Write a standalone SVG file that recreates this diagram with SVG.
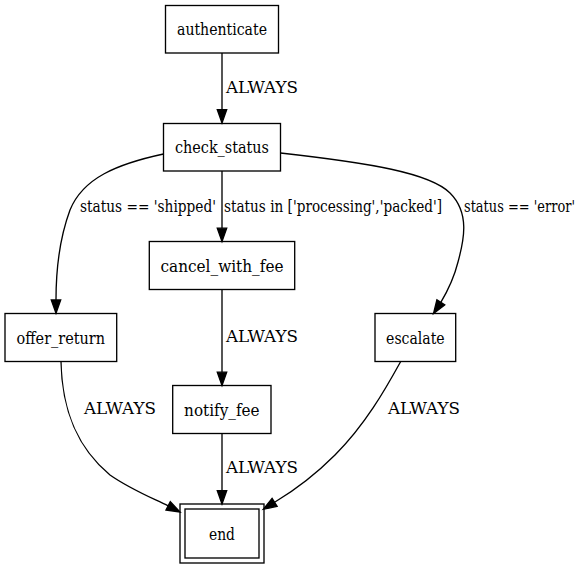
<svg xmlns="http://www.w3.org/2000/svg" width="584" height="568" viewBox="0 0 584 568">
<style>
  .node rect { fill: none; stroke: #000; stroke-width: 1.33; }
  text { font-family: "DejaVu Serif", "Liberation Serif", serif; font-size: 17px; fill: #000; }
  .node text { text-anchor: middle; }
  .edges path { fill: none; stroke: #000; stroke-width: 1.33; }
  .edges polygon { fill: #000; stroke: #000; stroke-width: 1.33; }
</style>
<rect x="0" y="0" width="584" height="568" fill="#fff"/>
<g id="edges" class="edges">
  <!-- authenticate -> check_status -->
  <path d="M222,53 L222,109.7"/>
  <polygon points="217.3,109.7 222,123 226.7,109.7"/>
  <text x="226" y="93" textLength="72" lengthAdjust="spacingAndGlyphs">ALWAYS</text>
  <!-- check_status -> offer_return -->
  <path d="M163.5,154 C117,164 83,178 70,210 C60,237 56,268 56,300"/>
  <polygon points="51.3,300 56,313.3 60.7,300"/>
  <text x="80" y="212" textLength="136" lengthAdjust="spacingAndGlyphs">status == 'shipped'</text>
  <!-- check_status -> cancel_with_fee -->
  <path d="M222,171 L222,228.2"/>
  <polygon points="217.3,228.2 222,241.5 226.7,228.2"/>
  <text x="224" y="212" textLength="218" lengthAdjust="spacingAndGlyphs">status in ['processing','packed']</text>
  <!-- check_status -> escalate -->
  <path d="M280.5,153 C370,163 430,173 450,193 C470,213 464,240 458,262 C454,278 447,292 440.8,302.4"/>
  <polygon points="444.7,304.9 433.5,313.5 436.9,299.8"/>
  <text x="464" y="212" textLength="111" lengthAdjust="spacingAndGlyphs">status == 'error'</text>
  <!-- cancel_with_fee -> notify_fee -->
  <path d="M222,289.5 L222,372.2"/>
  <polygon points="217.3,372.2 222,385.5 226.7,372.2"/>
  <text x="226" y="342" textLength="72" lengthAdjust="spacingAndGlyphs">ALWAYS</text>
  <!-- offer_return -> end -->
  <path d="M61,361.5 C62,415 80,450 110,475 C130,489 150,497 168.2,505.9"/>
  <polygon points="166,510 180,512 170.3,501.7"/>
  <text x="84" y="414" textLength="72" lengthAdjust="spacingAndGlyphs">ALWAYS</text>
  <!-- notify_fee -> end -->
  <path d="M222,433.5 L222,490.7"/>
  <polygon points="217.3,490.7 222,504 226.7,490.7"/>
  <text x="226" y="473" textLength="72" lengthAdjust="spacingAndGlyphs">ALWAYS</text>
  <!-- escalate -> end -->
  <path d="M400.7,361.5 C385,390 365,425 335,455 C315,475 295,490 274.6,502.3"/>
  <polygon points="277.1,506.3 263.3,509.3 272.1,498.3"/>
  <text x="388" y="414" textLength="72" lengthAdjust="spacingAndGlyphs">ALWAYS</text>
</g>
<g id="authenticate" class="node">
  <rect x="165.5" y="5.5" width="113" height="47.5"/>
  <text x="222" y="35" textLength="90" lengthAdjust="spacingAndGlyphs">authenticate</text>
</g>
<g id="check_status" class="node">
  <rect x="163.5" y="123.5" width="117" height="47.5"/>
  <text x="222" y="153.3" textLength="94" lengthAdjust="spacingAndGlyphs">check_status</text>
</g>
<g id="cancel_with_fee" class="node">
  <rect x="149.3" y="241.5" width="145.4" height="48"/>
  <text x="222" y="271.5" textLength="123" lengthAdjust="spacingAndGlyphs">cancel_with_fee</text>
</g>
<g id="offer_return" class="node">
  <rect x="5" y="313.5" width="111.7" height="48"/>
  <text x="60.85" y="343.5" textLength="88.5" lengthAdjust="spacingAndGlyphs">offer_return</text>
</g>
<g id="escalate" class="node">
  <rect x="375" y="313.5" width="80.7" height="48"/>
  <text x="415.35" y="343.5" textLength="58.5" lengthAdjust="spacingAndGlyphs">escalate</text>
</g>
<g id="notify_fee" class="node">
  <rect x="172.7" y="385.5" width="98.3" height="48"/>
  <text x="221.85" y="415.5" textLength="75.5" lengthAdjust="spacingAndGlyphs">notify_fee</text>
</g>
<g id="end" class="node">
  <rect x="180" y="504" width="84" height="59"/>
  <rect x="185" y="509" width="74" height="49"/>
  <text x="222" y="539.5" textLength="26" lengthAdjust="spacingAndGlyphs">end</text>
</g>
</svg>
